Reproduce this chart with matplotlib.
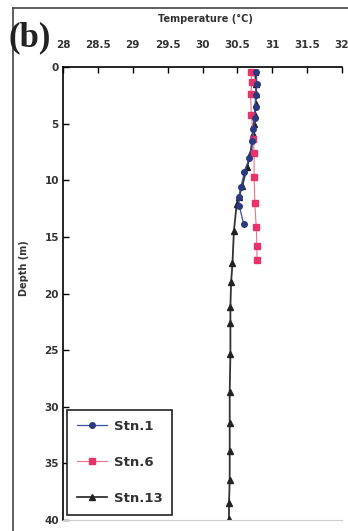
import matplotlib
matplotlib.use("Agg")
import matplotlib.pyplot as plt
from matplotlib.lines import Line2D

# Perfiles de temperatura (profundidad en m, temperatura en °C)
prof_stn1 = [0.4, 1.5, 2.5, 3.5, 4.5, 5.5, 6.5, 8.0, 9.3, 10.6, 11.5, 12.3, 13.9]
temp_stn1 = [30.77, 30.78, 30.76, 30.76, 30.75, 30.73, 30.71, 30.67, 30.60, 30.55, 30.52, 30.53, 30.59]

prof_stn6 = [0.4, 1.3, 2.4, 4.2, 6.4, 7.6, 9.7, 12.0, 14.1, 15.8, 17.0]
temp_stn6 = [30.69, 30.71, 30.69, 30.70, 30.73, 30.74, 30.74, 30.75, 30.77, 30.78, 30.78]

prof_stn13 = [0.4, 1.5, 2.4, 3.3, 4.2, 5.0, 5.9, 7.5, 8.8, 10.5, 11.5, 12.1, 14.5,
              17.3, 19.0, 21.2, 22.6, 25.3, 28.7, 31.4, 33.9, 36.5, 38.5, 39.9]
temp_stn13 = [30.75, 30.77, 30.77, 30.76, 30.75, 30.74, 30.72, 30.70, 30.64, 30.57, 30.52, 30.49, 30.45,
              30.43, 30.41, 30.40, 30.40, 30.40, 30.39, 30.39, 30.39, 30.39, 30.38, 30.38]

x_ticks = [28, 28.5, 29, 29.5, 30, 30.5, 31, 31.5, 32]
x_labels = ["28", "28.5", "29", "29.5", "30", "30.5", "31", "31.5", "32"]
y_ticks = [0, 5, 10, 15, 20, 25, 30, 35, 40]

W, H = 348, 531
fig = plt.figure(figsize=(W / 100, H / 100), dpi=100)
ax = fig.add_axes([63 / W, 1 - 520 / H, (342 - 63) / W, (520 - 67) / H])

ax.plot(temp_stn13, prof_stn13, color="#333333", lw=1.3, marker="^", ms=5,
        mfc="#222222", mec="#222222", label="Stn.13", zorder=2)
ax.plot(temp_stn6, prof_stn6, color="#f07090", lw=0.8, marker="s", ms=4.5,
        mfc="#e8336a", mec="#e8336a", label="Stn.6", zorder=3)
ax.plot(temp_stn1, prof_stn1, color="#3a4fa0", lw=0.9, marker="o", ms=4,
        mfc="#2b3a80", mec="#2b3a80", label="Stn.1", zorder=4)

ax.set_xlim(28, 32)
ax.set_ylim(40, 0)
ax.xaxis.tick_top()
ax.set_xticks(x_ticks)
ax.set_xticklabels(x_labels)
ax.set_yticks(y_ticks)
ax.tick_params(axis="both", direction="in", length=4, width=1, labelsize=7.5, pad=3)
for lab in ax.get_xticklabels() + ax.get_yticklabels():
    lab.set_fontweight("bold")
    lab.set_color("#333333")
ax.tick_params(axis="x", pad=12)

ax.spines["right"].set_visible(False)
ax.spines["bottom"].set_color("#cccccc")
ax.spines["bottom"].set_linewidth(0.8)
ax.spines["left"].set_linewidth(1.2)
ax.spines["top"].set_linewidth(1.2)

# Leyenda
handles = [
    Line2D([], [], color="#3a4fa0", lw=0.9, marker="o", ms=4, mfc="#2b3a80", mec="#2b3a80"),
    Line2D([], [], color="#f07090", lw=0.8, marker="s", ms=4.5, mfc="#e8336a", mec="#e8336a"),
    Line2D([], [], color="#333333", lw=1.3, marker="^", ms=5, mfc="#222222", mec="#222222"),
]
leg = ax.legend(handles, ["Stn.1", "Stn.6", "Stn.13"], loc="lower left",
                bbox_to_anchor=(4 / 279, 5 / 453), borderaxespad=0, fancybox=False,
                edgecolor="#222222", framealpha=1, prop={"size": 9.5, "weight": "bold"},
                handlelength=2.3, labelspacing=1.75, borderpad=0.75, handletextpad=0.5)
leg.get_frame().set_linewidth(1.2)
for t in leg.get_texts():
    t.set_color("#333333")

# Textos
fig.text(205 / W, 1 - 19 / H, "Temperature (°C)", ha="center", va="center",
         fontsize=7, fontweight="bold", color="#333333")
fig.text(8 / W, 1 - 38 / H, "(b)", ha="left", va="center", fontsize=25,
         family="Liberation Serif", fontweight="bold", color="#222222")
fig.text(24 / W, 1 - 268 / H, "Depth (m)", ha="center", va="center", rotation=90,
         fontsize=7, fontweight="bold", color="#333333")

# Marco exterior
fig.add_artist(Line2D([13 / W, 13 / W], [0, 1 - 8 / H], color="#444444", lw=1.2))
fig.add_artist(Line2D([13 / W, 1], [1 - 8 / H, 1 - 8 / H], color="#444444", lw=1.2))

fig.savefig("out.png", dpi=100)
